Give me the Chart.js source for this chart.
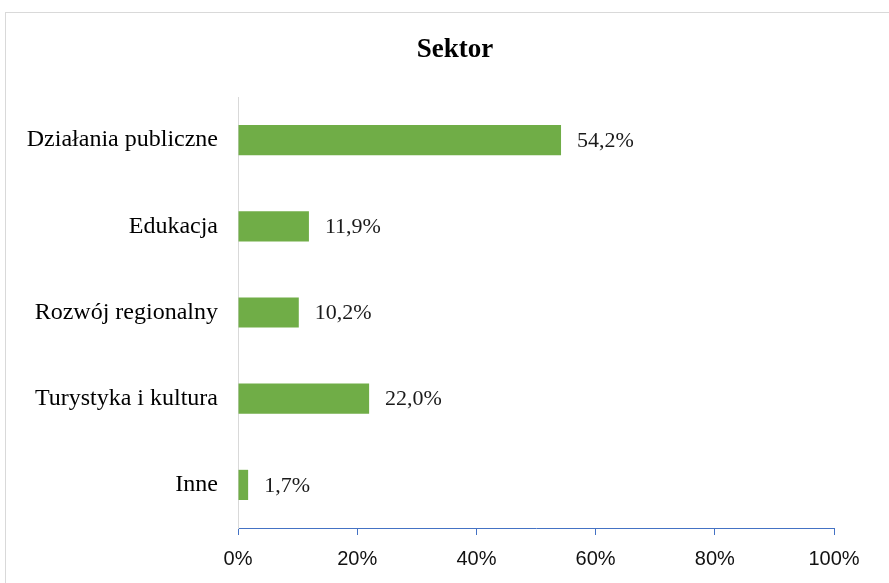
<!DOCTYPE html>
<html>
<head>
<meta charset="utf-8">
<script src="https://cdn.jsdelivr.net/npm/chart.js@4"></script>
<style>
  html, body { margin: 0; padding: 0; background: #fff; }
  #wrap { position: relative; width: 889px; height: 583px; overflow: hidden; }
  #frame { position: absolute; left: 5px; top: 12px; width: 1000px; height: 700px; border: 1px solid #d9d9d9; box-sizing: border-box; }
  canvas { position: absolute; left: 0; top: 0; }
</style>
</head>
<body>
<div id="wrap">
  <div id="frame"></div>
  <canvas id="sektorChart" width="889" height="583"></canvas>
</div>
<script>
// dane wykresu
const chartTitle = "Sektor";
const categories = ["Działania publiczne", "Edukacja", "Rozwój regionalny", "Turystyka i kultura", "Inne"];
const shares = [54.2, 11.9, 10.2, 22.0, 1.7];
const xTicks = [0, 20, 40, 60, 80, 100];

// tytuł wyśrodkowany na ramce wykresu (nie na obszarze danych)
const frameTitle = {
  id: "frameTitle",
  afterDraw(chart) {
    const ctx = chart.ctx;
    ctx.save();
    ctx.font = "bold 27px 'Liberation Serif'";
    ctx.fillStyle = "#000";
    ctx.textAlign = "center";
    ctx.textBaseline = "middle";
    ctx.fillText(chartTitle, 455, 50);
    ctx.restore();
  }
};

// etykiety wartości przy słupkach
const valueLabels = {
  id: "valueLabels",
  afterDatasetsDraw(chart) {
    const ctx = chart.ctx;
    const meta = chart.getDatasetMeta(0);
    ctx.save();
    ctx.font = "22px 'Liberation Serif'";
    ctx.fillStyle = "#1a1a1a";
    ctx.textBaseline = "middle";
    ctx.textAlign = "left";
    meta.data.forEach((bar, i) => {
      const txt = shares[i].toFixed(1).replace(".", ",") + "%";
      ctx.fillText(txt, bar.x + 16, bar.y + 1);
    });
    ctx.restore();
  }
};

const ctx = document.getElementById("sektorChart").getContext("2d");
new Chart(ctx, {
  type: "bar",
  data: {
    labels: categories,
    datasets: [{
      data: shares,
      backgroundColor: "#70AD47",
      barPercentage: 0.35,
      categoryPercentage: 1
    }]
  },
  options: {
    indexAxis: "y",
    responsive: false,
    animation: false,
    layout: { padding: { left: 0, right: 55, top: 97, bottom: 0 } },
    plugins: {
      legend: { display: false },
      tooltip: { enabled: false },
      title: { display: false }
    },
    scales: {
      x: {
        min: 0,
        max: 100,
        afterBuildTicks(scale) {
          scale.ticks = xTicks.map(v => ({ value: v }));
        },
        afterFit(scale) { scale.height = 55; },
        grid: { drawOnChartArea: false, drawTicks: true, tickLength: 7, color: "#4472C4" },
        border: { display: true, color: "#4472C4" },
        ticks: {
          padding: 12,
          color: "#111",
          font: { family: "'Liberation Sans'", size: 20 },
          callback: v => v + "%"
        }
      },
      y: {
        afterFit(scale) { scale.width = 238; },
        grid: { display: false, drawTicks: false },
        border: { display: true, color: "#d9d9d9" },
        ticks: {
          padding: 20,
          color: "#000",
          font: { family: "'Liberation Serif'", size: 24 }
        }
      }
    }
  },
  plugins: [valueLabels, frameTitle]
});
</script>
</body>
</html>
